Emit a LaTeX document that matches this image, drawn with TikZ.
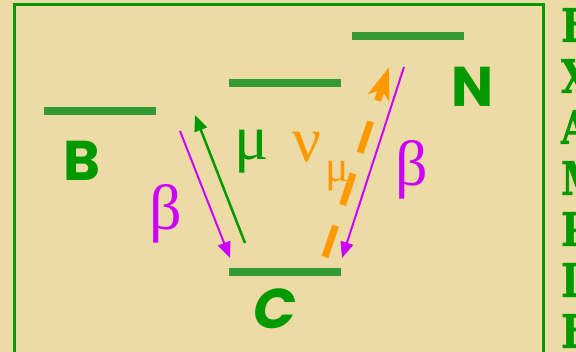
\documentclass[tikz,border=0pt]{standalone}
\usepackage{fontspec}
\setmainfont{Liberation Serif}
\newfontfamily\statefont{Poppins}
\newfontfamily\sidefont{DejaVu Serif Bold}[FakeStretch=0.8, FakeBold=1.5]
\usetikzlibrary{arrows.meta}

\definecolor{papyrus}{RGB}{237,219,166}
\definecolor{lvlgreen}{RGB}{51,153,51}
\definecolor{txtgreen}{RGB}{0,153,0}
\definecolor{betamag}{RGB}{204,0,255}
\definecolor{nuorange}{RGB}{255,153,0}

\tikzset{
  level/.style={lvlgreen, line width=8pt},
  statelbl/.style={txtgreen, inner sep=0pt, font=\statefont\bfseries\fontsize{56}{56}\selectfont},
  greek/.style={inner sep=0pt, font=\fontsize{64}{64}\selectfont},
  sidelbl/.style={txtgreen, inner sep=0pt, anchor=west, font=\sidefont\fontsize{46}{46}\selectfont},
  decay/.style={betamag, line width=2pt, -{Triangle[length=16pt,width=13pt]}},
  capture/.style={txtgreen, line width=2.5pt, -{Triangle[length=16pt,width=13pt]}},
  neutrino/.style={nuorange, line width=7pt, dash pattern=on 33pt off 22pt,
    -{Stealth[length=32pt,width=22pt,inset=8pt]}}
}

\begin{document}
\begin{tikzpicture}[x=1pt,y=-1pt]
  % paper and frame
  \useasboundingbox (0,0) rectangle (576,352);
  \clip (0,0) rectangle (576,352);
  \fill[papyrus] (0,0) rectangle (576,352);
  \draw[txtgreen, line width=3pt] (14,380) -- (14,5) -- (543,5) -- (543,380);

  % energy levels
  \draw[level] (44,111) -- (156,111);
  \draw[level] (229,83) -- (341,83);
  \draw[level] (352,36) -- (464,36);
  \draw[level] (229,272) -- (341,272);

  % state labels
  \node[statelbl] (B) at (82,161) {B};
  \node[statelbl] (C) at (275,309) {\itshape C};
  \node[statelbl] (N) at (473,87) {N};

  % arrow ends
  \coordinate (bl-start) at (180,131);
  \coordinate (bl-end) at (230,258);
  \coordinate (mu-start) at (245,243);
  \coordinate (mu-end) at (195,115);
  \coordinate (nu-start) at (325,257);
  \coordinate (nu-end) at (389,67);
  \coordinate (br-start) at (404,67);
  \coordinate (br-end) at (342,258);

  \draw[decay] (bl-start) -- (bl-end);
  \draw[capture] (mu-start) -- (mu-end);
  \draw[neutrino] (nu-start) -- (nu-end);
  \draw[decay] (br-start) -- (br-end);

  % particle labels
  \node[greek, betamag] (beta-l) at (166,214) {β};
  \node[greek, txtgreen] (mu) at (252,152) {μ};
  \node[greek, nuorange] (nu) at (307,147) {ν};
  \node[greek, nuorange, font=\fontsize{44}{44}\selectfont] (nu-sub) at (337,176) {μ};
  \node[greek, betamag] (beta-r) at (412,170) {β};

  % side text
  \foreach \ch/\yy [count=\i] in {E/25,X/76,A/127,M/178,P/229,L/280,E/331}
    \node[sidelbl] (side\i) at (561,\yy) {\ch};
\end{tikzpicture}
\end{document}
